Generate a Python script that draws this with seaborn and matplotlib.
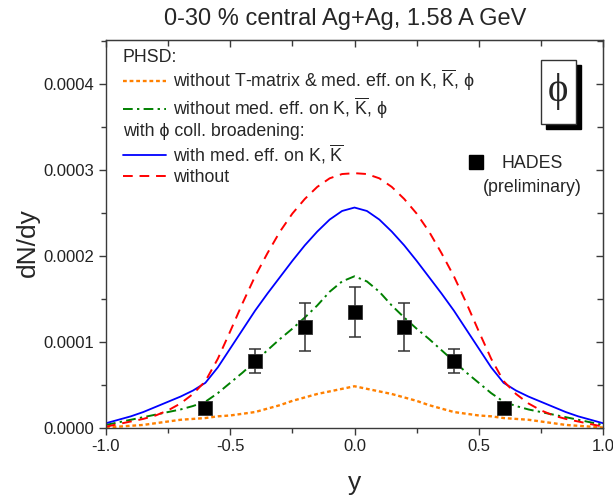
import numpy as np
import pandas as pd
import matplotlib
matplotlib.use("Agg")
import matplotlib.pyplot as plt
from matplotlib.lines import Line2D
from matplotlib.patches import Rectangle
from matplotlib.ticker import MultipleLocator, FormatStrFormatter, NullFormatter
import seaborn as sns

# Rapidity grid of the PHSD calculations
rapidity = [-1.00, -0.95, -0.90, -0.85, -0.80, -0.75, -0.70, -0.65, -0.60, -0.55,
            -0.50, -0.45, -0.40, -0.35, -0.30, -0.25, -0.20, -0.15, -0.10, -0.05,
            0.00, 0.05, 0.10, 0.15, 0.20, 0.25, 0.30, 0.35, 0.40, 0.45,
            0.50, 0.55, 0.60, 0.65, 0.70, 0.75, 0.80, 0.85, 0.90, 0.95, 1.00]

# dN/dy in units of 1e-4
no_tmatrix = [0.00, 0.01, 0.02, 0.03, 0.05, 0.07, 0.09, 0.10, 0.11, 0.13,
              0.14, 0.16, 0.18, 0.22, 0.26, 0.31, 0.35, 0.39, 0.42, 0.45,
              0.48, 0.45, 0.42, 0.39, 0.35, 0.31, 0.26, 0.22, 0.18, 0.16,
              0.14, 0.13, 0.11, 0.10, 0.09, 0.07, 0.05, 0.03, 0.02, 0.01, 0.00]
no_medium = [0.03, 0.06, 0.09, 0.12, 0.15, 0.18, 0.21, 0.25, 0.30, 0.40,
             0.52, 0.64, 0.77, 0.90, 1.03, 1.15, 1.28, 1.42, 1.58, 1.70,
             1.76, 1.70, 1.58, 1.42, 1.28, 1.15, 1.03, 0.90, 0.77, 0.64,
             0.52, 0.40, 0.30, 0.25, 0.21, 0.18, 0.15, 0.12, 0.09, 0.06, 0.03]
coll_with_medium = [0.05, 0.09, 0.13, 0.18, 0.24, 0.30, 0.36, 0.43, 0.52, 0.70,
                    0.92, 1.14, 1.36, 1.56, 1.75, 1.94, 2.12, 2.28, 2.42, 2.52,
                    2.56, 2.52, 2.42, 2.28, 2.12, 1.94, 1.75, 1.56, 1.36, 1.14,
                    0.92, 0.70, 0.52, 0.43, 0.36, 0.30, 0.24, 0.18, 0.13, 0.09, 0.05]
coll_without = [0.01, 0.04, 0.07, 0.10, 0.14, 0.20, 0.28, 0.39, 0.54, 0.80,
                1.12, 1.45, 1.76, 2.03, 2.28, 2.49, 2.66, 2.80, 2.90, 2.95,
                2.96, 2.95, 2.90, 2.80, 2.66, 2.49, 2.28, 2.03, 1.76, 1.45,
                1.12, 0.80, 0.54, 0.39, 0.28, 0.20, 0.14, 0.10, 0.07, 0.04, 0.01]

# HADES (preliminary) data, units of 1e-4
hades_y = [-0.6, -0.4, -0.2, 0.0, 0.2, 0.4, 0.6]
hades_dndy = [0.23, 0.77, 1.17, 1.34, 1.17, 0.77, 0.23]
hades_err = [0.02, 0.14, 0.28, 0.29, 0.28, 0.14, 0.02]

scale = 1e-4

sns.set_style("ticks")
plt.rcParams["font.family"] = ["Liberation Sans", "DejaVu Sans"]
plt.rcParams["mathtext.fontset"] = "custom"
plt.rcParams["mathtext.rm"] = "Liberation Sans"
plt.rcParams["mathtext.it"] = "Liberation Sans:italic"

fig = plt.figure(figsize=(6.13, 4.98), dpi=100)
ax = fig.add_axes([106 / 613, 1 - 427.5 / 498, 497 / 613, 387.5 / 498])

curves = pd.DataFrame({
    "y": rapidity,
    "no_tmatrix": np.array(no_tmatrix) * scale,
    "no_medium": np.array(no_medium) * scale,
    "coll_with_medium": np.array(coll_with_medium) * scale,
    "coll_without": np.array(coll_without) * scale,
})

kbar = r"$\overline{\mathrm{K}}$"
styles = [
    ("no_tmatrix", "#FF8000", (0, (1.6, 1.2)), 1.7,
     f"without T-matrix & med. eff. on K, {kbar}, ϕ"),
    ("no_medium", "#008000", (0, (5, 2.2, 1.2, 2.2)), 1.4,
     f"without med. eff. on K, {kbar}, ϕ"),
    ("coll_with_medium", "#0000FF", "-", 1.3,
     f"with med. eff. on K, {kbar}"),
    ("coll_without", "#FF0000", (0, (5, 3.5)), 1.4, "without"),
]
handles = []
for col, color, ls, lw, lab in styles:
    sns.lineplot(data=curves, x="y", y=col, color=color, linestyle=ls,
                 linewidth=lw, ax=ax, legend=False)
    handles.append(Line2D([], [], color=color, linestyle=ls, linewidth=lw, label=lab))

ax.errorbar(np.array(hades_y), np.array(hades_dndy) * scale,
            yerr=np.array(hades_err) * scale, fmt="none", ecolor="#333333",
            elinewidth=1.1, capsize=4, capthick=1.1, zorder=4)
sns.scatterplot(x=np.array(hades_y), y=np.array(hades_dndy) * scale, ax=ax,
                marker="s", s=95, color="black", edgecolor="#333333",
                linewidth=0.6, zorder=5, legend=False)

ax.set_xlim(-1.0, 1.0)
ax.set_ylim(0, 0.000451)
ax.xaxis.set_major_locator(MultipleLocator(0.5))
ax.xaxis.set_minor_locator(MultipleLocator(0.25))
ax.yaxis.set_major_locator(MultipleLocator(0.0001))
ax.yaxis.set_minor_locator(MultipleLocator(0.00005))
ax.xaxis.set_major_formatter(FormatStrFormatter("%.1f"))
ax.yaxis.set_major_formatter(FormatStrFormatter("%.4f"))

axis_color = "#3a3a3a"
for sp in ax.spines.values():
    sp.set_visible(True)
    sp.set_color(axis_color)
    sp.set_linewidth(1.0)
ax.tick_params(axis="both", which="major", direction="out", length=5,
               width=1.0, color=axis_color, labelsize=12, labelcolor="#222222")
ax.tick_params(axis="both", which="minor", direction="out", length=3.3,
               width=1.0, color=axis_color)

# mirrored ticks on top and right, pointing inward
top = ax.secondary_xaxis("top")
top.xaxis.set_major_locator(MultipleLocator(0.5))
top.xaxis.set_minor_locator(MultipleLocator(0.25))
top.xaxis.set_major_formatter(NullFormatter())
top.tick_params(which="major", direction="in", length=5, width=1.0, color=axis_color)
top.tick_params(which="minor", direction="in", length=4.5, width=1.0, color=axis_color)
top.spines["top"].set_color(axis_color)
right = ax.secondary_yaxis("right")
right.yaxis.set_major_locator(MultipleLocator(0.0001))
right.yaxis.set_minor_locator(MultipleLocator(0.00005))
right.yaxis.set_major_formatter(NullFormatter())
right.tick_params(which="major", direction="in", length=5, width=1.0, color=axis_color)
right.tick_params(which="minor", direction="in", length=4.5, width=1.0, color=axis_color)
right.spines["right"].set_color(axis_color)

ax.set_xlabel("y", fontsize=19)
ax.set_ylabel("dN/dy", fontsize=19)
ax.xaxis.set_label_coords(0.5, -0.112)
ax.yaxis.set_label_coords(-0.133, 0.478)
ax.set_title("0-30 % central Ag+Ag, 1.58 A GeV", fontsize=17, pad=11, x=0.481)

leg_fs = 12.8
leg1 = ax.legend(handles=handles[:2], title="PHSD:", loc="upper left",
                 bbox_to_anchor=(0.034, 0.977), frameon=False, fontsize=leg_fs,
                 title_fontsize=leg_fs, alignment="left", borderpad=0,
                 borderaxespad=0, handlelength=2.45, handletextpad=0.35,
                 labelspacing=0.12)
ax.add_artist(leg1)
ax.legend(handles=handles[2:], title="with ϕ coll. broadening:",
          loc="upper left", bbox_to_anchor=(0.034, 0.786), frameon=False,
          fontsize=leg_fs, title_fontsize=leg_fs, alignment="left",
          borderpad=0, borderaxespad=0, handlelength=2.45,
          handletextpad=0.35, labelspacing=0.16)

# HADES key
ax.plot([0.744], [0.685], marker="s", markersize=9.5, color="black",
        transform=ax.transAxes, clip_on=False)
ax.text(0.857, 0.703, "HADES\n(preliminary)", transform=ax.transAxes,
        ha="center", va="top", multialignment="center", fontsize=leg_fs,
        linespacing=1.5)

# particle label box with drop shadow
ax.add_patch(Rectangle((0.885, 0.770), 0.0704, 0.165, transform=ax.transAxes,
                       facecolor="black", edgecolor="black", zorder=6))
ax.add_patch(Rectangle((0.875, 0.783), 0.0704, 0.165, transform=ax.transAxes,
                       facecolor="white", edgecolor="#333333", lw=1.0, zorder=7))
ax.text(0.910, 0.866, "ϕ", transform=ax.transAxes, ha="center", va="center",
        fontsize=28, family=["Liberation Serif", "DejaVu Serif"], zorder=8)

fig.savefig("out.png", dpi=100)
